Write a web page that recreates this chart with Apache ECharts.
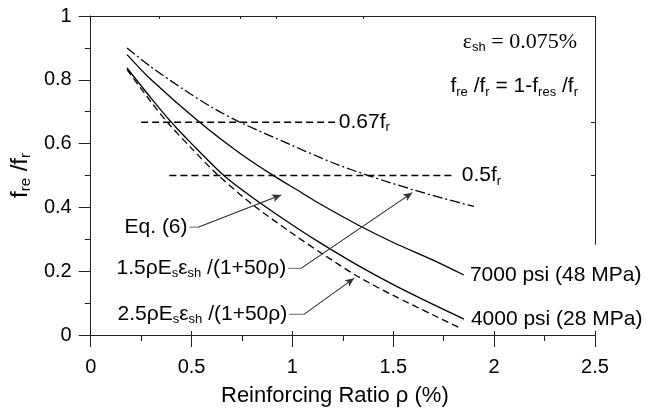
<!DOCTYPE html>
<html>
<head>
<meta charset="utf-8">
<script src="https://cdn.jsdelivr.net/npm/echarts@6/dist/echarts.min.js"></script>
<style>
  html, body { margin: 0; background: #fff; }
  #chart { width: 647px; height: 412px; }
</style>
</head>
<body>
<div id="chart"></div>
<script>
// values: [reinforcing ratio %, fre/fr]
const shrink15 = [[0.18, 0.90], [0.3, 0.84], [0.46, 0.77], [0.6, 0.714], [0.74, 0.667], [1.0, 0.594],
  [1.2, 0.54], [1.38, 0.499], [1.6, 0.455], [1.75, 0.428], [1.9, 0.403]];
const psi7000 = [[0.18, 0.879], [0.3, 0.80], [0.54, 0.667], [0.75, 0.565], [0.9, 0.502], [1.02, 0.456],
  [1.14, 0.41], [1.34, 0.34], [1.5, 0.29], [1.7, 0.234], [1.85, 0.188]];
const psi4000 = [[0.18, 0.837], [0.3, 0.742], [0.4, 0.667], [0.5, 0.60], [0.66, 0.50], [0.8, 0.432],
  [1.0, 0.345], [1.14, 0.288], [1.32, 0.22], [1.5, 0.158], [1.7, 0.095], [1.85, 0.05]];
const shrink25 = [[0.18, 0.832], [0.3, 0.73], [0.38, 0.667], [0.5, 0.585], [0.63, 0.502], [0.8, 0.41],
  [1.0, 0.318], [1.15, 0.254], [1.32, 0.185], [1.5, 0.124], [1.7, 0.062], [1.84, 0.019]];
const level067 = [[0.25, 0.667], [1.215, 0.667]];
const level05 = [[0.39, 0.5], [1.80, 0.5]];

// leader lines of the callouts (data coords), arrow on last segment
const leaderEq6 = [[0.49, 0.338], [0.533, 0.338], [0.944, 0.439]];
const leader15 = [[0.979, 0.209], [1.043, 0.209], [1.594, 0.446]];
const leader25 = [[0.984, 0.065], [1.058, 0.065], [1.306, 0.178]];

const topTicks = [0.34, 0.74, 0.92, 1.35];
const rightTicks = [0.5, 0.667];

const SANS = 'Liberation Sans';
const SERIF = 'Liberation Serif';
const rich = {
  n: { fontFamily: SANS, fontSize: 21, lineHeight: 24, color: '#000' },
  s: { fontFamily: SANS, fontSize: 13, lineHeight: 6, verticalAlign: 'bottom', color: '#000' },
  e: { fontFamily: SERIF, fontSize: 22, lineHeight: 24, color: '#000' },
  yn: { fontFamily: SANS, fontSize: 24, lineHeight: 26, color: '#000' },
  ys: { fontFamily: SANS, fontSize: 15, lineHeight: 6, verticalAlign: 'bottom', color: '#000' }
};

const chart = echarts.init(document.getElementById('chart'));

function curve(data, dash, extra) {
  return Object.assign({
    type: 'line', data: data, symbol: 'none', smooth: 0.3, silent: true,
    lineStyle: { color: '#000', width: 1.3, type: dash }
  }, extra || {});
}

function endText(text, dist) {
  return {
    show: true, distance: dist, formatter: text, rich: rich,
    fontFamily: SANS, fontSize: 21, color: '#000'
  };
}

function leader(pts) {
  return {
    type: 'line', data: pts, symbol: 'none', silent: true,
    lineStyle: { color: '#555', width: 0.9 },
    markLine: {
      silent: true, symbol: ['none', 'arrow'], symbolSize: [6, 9],
      lineStyle: { color: '#333', width: 0.9, type: 'solid' },
      label: { show: false },
      data: [[{ coord: pts[1] }, { coord: pts[2] }]]
    }
  };
}

const axisColor = '#222';

chart.setOption({
  animation: false,
  grid: { left: 89, right: 52, top: 16, bottom: 73 },
  xAxis: [{
    type: 'value', min: 0, max: 2.5, interval: 0.5,
    name: 'Reinforcing Ratio ρ (%)', nameLocation: 'middle', nameGap: 50,
    nameTextStyle: { fontFamily: SANS, fontSize: 22, color: '#000', padding: [0, 16, 0, 0] },
    axisLine: { show: true, onZero: false, lineStyle: { color: axisColor, width: 1 } },
    axisTick: { show: true, length: 12, lineStyle: { color: axisColor } },
    minorTick: { show: true, splitNumber: 2, length: 6, lineStyle: { color: axisColor } },
    axisLabel: { fontFamily: SANS, fontSize: 20, color: '#000', margin: 22 },
    splitLine: { show: false }
  }, {
    type: 'value', position: 'top', min: 0, max: 2.5,
    axisLine: { show: true, onZero: false, lineStyle: { color: axisColor, width: 1 } },
    axisTick: { show: true, inside: true, length: 3, customValues: topTicks, lineStyle: { color: axisColor } },
    axisLabel: { show: false },
    splitLine: { show: false }
  }, {
    type: 'value', position: 'bottom', offset: 0, min: 0, max: 2.5, interval: 0.5,
    axisLine: { show: false, onZero: false },
    axisTick: { show: true, inside: true, length: 4, lineStyle: { color: axisColor } },
    axisLabel: { show: false },
    splitLine: { show: false }
  }],
  yAxis: [{
    type: 'value', min: 0, max: 1, interval: 0.2,
    name: '{yn|f}{ys|re}{yn| /f}{ys|r}', nameLocation: 'middle', nameGap: 52, nameRotate: 90,
    nameTextStyle: { rich: rich },
    axisLine: { show: true, onZero: false, lineStyle: { color: axisColor, width: 1 } },
    axisTick: { show: true, length: 12, lineStyle: { color: axisColor } },
    minorTick: { show: true, splitNumber: 2, length: 6, lineStyle: { color: axisColor } },
    axisLabel: { fontFamily: SANS, fontSize: 20, color: '#000', margin: 19 },
    splitLine: { show: false }
  }, {
    type: 'value', position: 'right', min: 0, max: 1,
    axisLine: { show: false, onZero: false },
    axisTick: { show: true, inside: true, length: 4, customValues: rightTicks, lineStyle: { color: axisColor } },
    axisLabel: { show: false },
    splitLine: { show: false }
  }],
  series: [
    curve(shrink15, [10, 3, 2, 3]),
    curve(psi7000, 'solid', { endLabel: endText('7000 psi (48 MPa)', 6) }),
    curve(psi4000, 'solid', { endLabel: endText('4000 psi (28 MPa)', 7) }),
    curve(shrink25, [7, 4]),
    curve(level067, [7, 4], { smooth: false, endLabel: endText('{n|0.67f}{s|r}', 3) }),
    curve(level05, [7, 4], { smooth: false, endLabel: endText('{n|0.5f}{s|r}', 8) }),
    leader(leaderEq6),
    leader(leader15),
    leader(leader25),
    {
      // right frame, broken where the curve labels sit
      type: 'line', data: [], silent: true,
      markLine: {
        silent: true, symbol: 'none', label: { show: false },
        lineStyle: { color: axisColor, width: 1, type: 'solid' },
        data: [[{ coord: [2.5, 1] }, { coord: [2.5, 0.283] }]]
      }
    }
  ]
});

function px(p) {
  return chart.convertToPixel({ xAxisIndex: 0, yAxisIndex: 0 }, p);
}

function callout(text, pts) {
  const p = px(pts[0]);
  return {
    type: 'text', x: p[0] - 2, y: p[1], z: 50,
    style: { text: text, rich: rich, align: 'right', verticalAlign: 'middle', fontFamily: SANS, fontSize: 21, fill: '#000' }
  };
}

chart.setOption({
  graphic: [
    callout('{n|Eq. (6)}', leaderEq6),
    callout('{n|1.5ρE}{s|s}{n|ε}{s|sh}{n| /(1+50ρ)}', leader15),
    callout('{n|2.5ρE}{s|s}{n|ε}{s|sh}{n| /(1+50ρ)}', leader25),
    {
      type: 'text', right: 70, top: 31, z: 50,
      style: { text: '{e|ε}{s|sh}{e| = 0.075%}', rich: rich }
    },
    {
      type: 'text', right: 69, top: 76, z: 50,
      style: { text: '{n|f}{s|re}{n| /f}{s|r}{n| = 1-f}{s|res}{n| /f}{s|r}', rich: rich }
    }
  ]
});
</script>
</body>
</html>
